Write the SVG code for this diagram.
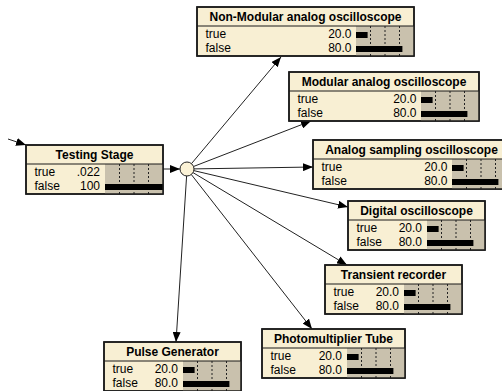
<svg xmlns="http://www.w3.org/2000/svg" width="502" height="391" viewBox="0 0 502 391">
<defs>
<style>
.box{fill:#F8EFD3;stroke:#1a1a1a;stroke-width:1.5}
.bar{fill:#C9C1AD}
.div{stroke:#1a1a1a;stroke-width:1.2}
.grid{stroke:#222;stroke-width:1;stroke-dasharray:2 2}
.ttl{font-family:"Liberation Sans",Arial,sans-serif;font-size:12px;font-weight:bold;fill:#000;text-anchor:middle}
.lbl{font-family:"Liberation Sans",Arial,sans-serif;font-size:12px;fill:#000}
.val{font-family:"Liberation Sans",Arial,sans-serif;font-size:12px;fill:#000;text-anchor:end}
.b{fill:#000}
.con{stroke:#222;stroke-width:1;fill:none;marker-end:url(#ah)}
</style>
<marker id="ah" markerWidth="10" markerHeight="8" refX="10" refY="4" orient="auto" markerUnits="userSpaceOnUse">
<path d="M0,0 L10,4 L0,8 z" fill="#000"/>
</marker>
</defs>

<g id="connectors">
<line class="con" x1="8" y1="139" x2="26" y2="145"/>
<line class="con" x1="163" y1="169" x2="180" y2="169"/>
<line class="con" x1="191.5" y1="163.6" x2="281" y2="57"/>
<line class="con" x1="193.5" y1="166.5" x2="311" y2="121"/>
<line class="con" x1="194" y1="168.9" x2="313" y2="167"/>
<line class="con" x1="193.8" y1="170.6" x2="348" y2="207"/>
<line class="con" x1="193" y1="172.6" x2="347" y2="265"/>
<line class="con" x1="191.3" y1="174.5" x2="312" y2="329"/>
<line class="con" x1="186.6" y1="176" x2="176" y2="342"/>
</g>

<g id="hub">
<circle cx="187" cy="169" r="7" fill="#FBF2D6" stroke="#222" stroke-width="1"/>
</g>

<!-- Testing Stage L=26 W=137 T=145 B=105 -->
<g id="testing-stage">
<rect class="box" x="26" y="145" width="137" height="49"/>
<rect class="bar" x="105" y="164" width="58" height="30"/>
<line class="div" x1="26" y1="164" x2="163" y2="164"/>
<line class="grid" x1="119.5" y1="164" x2="119.5" y2="194"/>
<line class="grid" x1="134" y1="164" x2="134" y2="194"/>
<line class="grid" x1="148.5" y1="164" x2="148.5" y2="194"/>
<rect class="b" x="105" y="184" width="58" height="6"/>
<rect class="box" x="26" y="145" width="137" height="49" fill="none" style="fill:none"/>
<text class="ttl" x="94.5" y="159">Testing Stage</text>
<text class="lbl" x="34.5" y="175.5">true</text>
<text class="lbl" x="34.5" y="190">false</text>
<text class="val" x="100" y="175.5">.022</text>
<text class="val" x="100" y="190">100</text>
</g>

<!-- Non-Modular L=197 W=217 T=7 B=356 -->
<g id="non-modular-analog-oscilloscope">
<rect class="box" x="197" y="7" width="217" height="49"/>
<rect class="bar" x="356" y="26" width="58" height="30"/>
<line class="div" x1="197" y1="26" x2="414" y2="26"/>
<line class="grid" x1="370.5" y1="26" x2="370.5" y2="56"/>
<line class="grid" x1="385" y1="26" x2="385" y2="56"/>
<line class="grid" x1="399.5" y1="26" x2="399.5" y2="56"/>
<rect class="b" x="356" y="32" width="11.6" height="6"/>
<rect class="b" x="356" y="46" width="46.4" height="6"/>
<rect x="197" y="7" width="217" height="49" style="fill:none;stroke:#1a1a1a;stroke-width:1.5"/>
<text class="ttl" x="305.5" y="21">Non-Modular analog oscilloscope</text>
<text class="lbl" x="205.5" y="37.5">true</text>
<text class="lbl" x="205.5" y="52">false</text>
<text class="val" x="351.5" y="37.5">20.0</text>
<text class="val" x="351.5" y="52">80.0</text>
</g>

<!-- Modular L=289 W=190 T=72 B=421 -->
<g id="modular-analog-oscilloscope">
<rect class="box" x="289" y="72" width="190" height="49"/>
<rect class="bar" x="421" y="91" width="58" height="30"/>
<line class="div" x1="289" y1="91" x2="479" y2="91"/>
<line class="grid" x1="435.5" y1="91" x2="435.5" y2="121"/>
<line class="grid" x1="450" y1="91" x2="450" y2="121"/>
<line class="grid" x1="464.5" y1="91" x2="464.5" y2="121"/>
<rect class="b" x="421" y="97" width="11.6" height="6"/>
<rect class="b" x="421" y="111" width="46.4" height="6"/>
<rect x="289" y="72" width="190" height="49" style="fill:none;stroke:#1a1a1a;stroke-width:1.5"/>
<text class="ttl" x="384" y="86">Modular analog oscilloscope</text>
<text class="lbl" x="297.5" y="102.5">true</text>
<text class="lbl" x="297.5" y="117">false</text>
<text class="val" x="416.5" y="102.5">20.0</text>
<text class="val" x="416.5" y="117">80.0</text>
</g>

<!-- Analog sampling L=313 W=197 T=140 B=452 -->
<g id="analog-sampling-oscilloscope">
<rect class="box" x="313" y="140" width="197" height="49"/>
<rect class="bar" x="452" y="159" width="58" height="30"/>
<line class="div" x1="313" y1="159" x2="510" y2="159"/>
<line class="grid" x1="466.5" y1="159" x2="466.5" y2="189"/>
<line class="grid" x1="481" y1="159" x2="481" y2="189"/>
<line class="grid" x1="495.5" y1="159" x2="495.5" y2="189"/>
<rect class="b" x="452" y="165" width="11.6" height="6"/>
<rect class="b" x="452" y="179" width="46.4" height="6"/>
<rect x="313" y="140" width="197" height="49" style="fill:none;stroke:#1a1a1a;stroke-width:1.5"/>
<text class="ttl" x="411.5" y="154">Analog sampling oscilloscope</text>
<text class="lbl" x="321.5" y="170.5">true</text>
<text class="lbl" x="321.5" y="185">false</text>
<text class="val" x="447.5" y="170.5">20.0</text>
<text class="val" x="447.5" y="185">80.0</text>
</g>

<!-- Digital L=348 W=137 T=201 B=427 -->
<g id="digital-oscilloscope">
<rect class="box" x="348" y="201" width="137" height="49"/>
<rect class="bar" x="427" y="220" width="58" height="30"/>
<line class="div" x1="348" y1="220" x2="485" y2="220"/>
<line class="grid" x1="441.5" y1="220" x2="441.5" y2="250"/>
<line class="grid" x1="456" y1="220" x2="456" y2="250"/>
<line class="grid" x1="470.5" y1="220" x2="470.5" y2="250"/>
<rect class="b" x="427" y="226" width="11.6" height="6"/>
<rect class="b" x="427" y="240" width="46.4" height="6"/>
<rect x="348" y="201" width="137" height="49" style="fill:none;stroke:#1a1a1a;stroke-width:1.5"/>
<text class="ttl" x="416.5" y="215">Digital oscilloscope</text>
<text class="lbl" x="356.5" y="231.5">true</text>
<text class="lbl" x="356.5" y="246">false</text>
<text class="val" x="422" y="231.5">20.0</text>
<text class="val" x="422" y="246">80.0</text>
</g>

<!-- Transient L=325 W=137 T=265 B=404 -->
<g id="transient-recorder">
<rect class="box" x="325" y="265" width="137" height="49"/>
<rect class="bar" x="404" y="284" width="58" height="30"/>
<line class="div" x1="325" y1="284" x2="462" y2="284"/>
<line class="grid" x1="418.5" y1="284" x2="418.5" y2="314"/>
<line class="grid" x1="433" y1="284" x2="433" y2="314"/>
<line class="grid" x1="447.5" y1="284" x2="447.5" y2="314"/>
<rect class="b" x="404" y="290" width="11.6" height="6"/>
<rect class="b" x="404" y="304" width="46.4" height="6"/>
<rect x="325" y="265" width="137" height="49" style="fill:none;stroke:#1a1a1a;stroke-width:1.5"/>
<text class="ttl" x="393.5" y="279">Transient recorder</text>
<text class="lbl" x="333.5" y="295.5">true</text>
<text class="lbl" x="333.5" y="310">false</text>
<text class="val" x="399" y="295.5">20.0</text>
<text class="val" x="399" y="310">80.0</text>
</g>

<!-- Photomultiplier L=262 W=143 T=329 B=347 -->
<g id="photomultiplier-tube">
<rect class="box" x="262" y="329" width="143" height="49"/>
<rect class="bar" x="347" y="348" width="58" height="30"/>
<line class="div" x1="262" y1="348" x2="405" y2="348"/>
<line class="grid" x1="361.5" y1="348" x2="361.5" y2="378"/>
<line class="grid" x1="376" y1="348" x2="376" y2="378"/>
<line class="grid" x1="390.5" y1="348" x2="390.5" y2="378"/>
<rect class="b" x="347" y="354" width="11.6" height="6"/>
<rect class="b" x="347" y="368" width="46.4" height="6"/>
<rect x="262" y="329" width="143" height="49" style="fill:none;stroke:#1a1a1a;stroke-width:1.5"/>
<text class="ttl" x="333.5" y="343">Photomultiplier Tube</text>
<text class="lbl" x="270.5" y="359.5">true</text>
<text class="lbl" x="270.5" y="374">false</text>
<text class="val" x="342" y="359.5">20.0</text>
<text class="val" x="342" y="374">80.0</text>
</g>

<!-- Pulse Generator L=104 W=137 T=342 B=183 -->
<g id="pulse-generator">
<rect class="box" x="104" y="342" width="137" height="49"/>
<rect class="bar" x="183" y="361" width="58" height="30"/>
<line class="div" x1="104" y1="361" x2="241" y2="361"/>
<line class="grid" x1="197.5" y1="361" x2="197.5" y2="391"/>
<line class="grid" x1="212" y1="361" x2="212" y2="391"/>
<line class="grid" x1="226.5" y1="361" x2="226.5" y2="391"/>
<rect class="b" x="183" y="367" width="11.6" height="6"/>
<rect class="b" x="183" y="381" width="46.4" height="6"/>
<rect x="104" y="342" width="137" height="49" style="fill:none;stroke:#1a1a1a;stroke-width:1.5"/>
<text class="ttl" x="172.5" y="356">Pulse Generator</text>
<text class="lbl" x="112.5" y="372.5">true</text>
<text class="lbl" x="112.5" y="387">false</text>
<text class="val" x="178" y="372.5">20.0</text>
<text class="val" x="178" y="387">80.0</text>
</g>
</svg>
